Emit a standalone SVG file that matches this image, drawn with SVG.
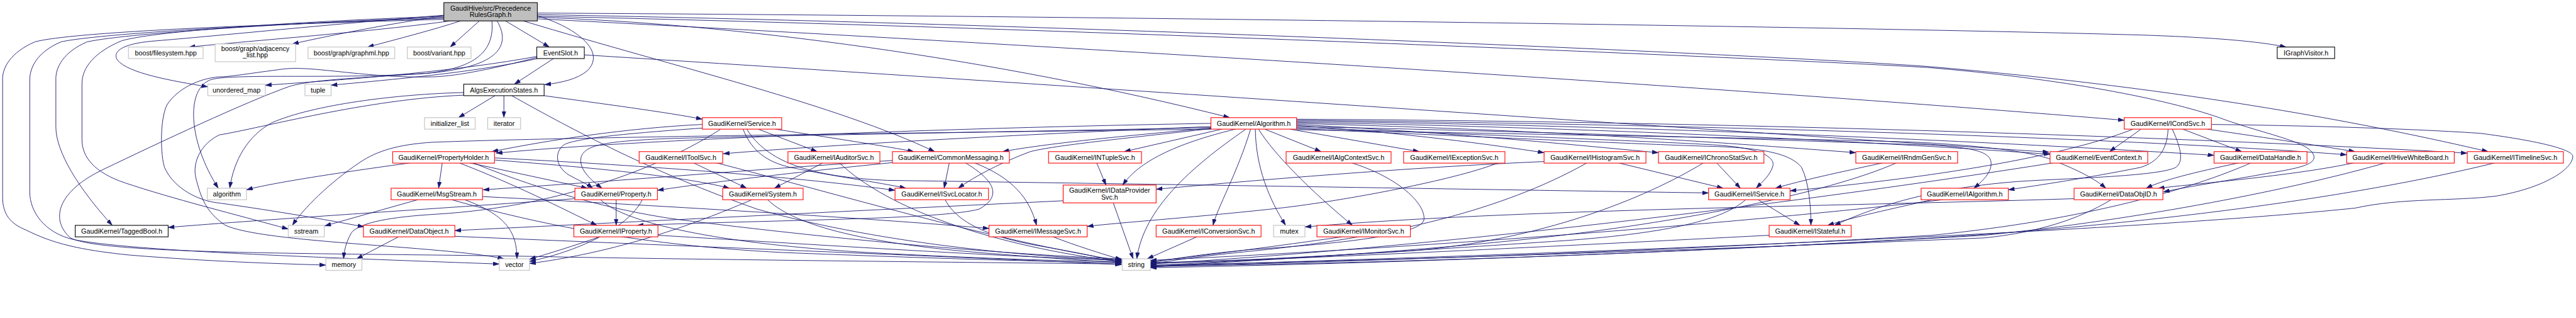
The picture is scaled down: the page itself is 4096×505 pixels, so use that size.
<svg xmlns="http://www.w3.org/2000/svg" width="4096" height="505" viewBox="0 0 4096 505">
<style>
.e{fill:none;stroke:#191970;stroke-width:1.1}
.n rect{fill:#fff;stroke-width:1.3}
.red rect{stroke:#ff0000}
.ext rect{stroke:#bfbfbf}
.doc rect{stroke:#000}
.root rect{fill:#bfbfbf;stroke:#000}
text{font-family:"Liberation Sans",Arial,sans-serif;font-size:13px;text-anchor:middle;fill:#000}
</style>
<defs>
<marker id="a" markerUnits="userSpaceOnUse" markerWidth="12" markerHeight="8" refX="12" refY="4" orient="auto"><path d="M0,0 L12,4 L0,8 z" fill="#191970" stroke="#191970" stroke-width="0.5"/></marker>
</defs>
<rect width="4096" height="505" fill="#fff"/>
<g transform="scale(0.8303)">
<g id="edges" marker-end="url(#a)">
<path class="e" marker-end="url(#a)" d="M 862,40 C 720,60 480,78 362,90"/>
<path class="e" marker-end="url(#a)" d="M 851,30 C 750,45 640,66 560,84"/>
<path class="e" marker-end="url(#a)" d="M 882,40 C 830,57 760,75 704,90"/>
<path class="e" marker-end="url(#a)" d="M 918,40 L 862,90"/>
<path class="e" marker-end="url(#a)" d="M 968,40 L 1052,90"/>
<path class="e" marker-end="url(#a)" d="M 1029,30 C 1110,55 1160,100 1125,135 C 1105,152 1075,158 1043,162"/>
<path class="e" marker-end="url(#a)" d="M 850,29 C 650,45 400,70 300,78 C 230,83 215,100 225,115 C 245,140 330,155 398,166"/>
<path class="e" marker-end="url(#a)" d="M 942,40 C 948,105 900,130 820,140 C 650,152 450,140 405,152 C 355,168 360,270 418,360"/>
<path class="e" marker-end="url(#a)" d="M 850,31 C 600,40 300,58 233,78 C 180,100 157,130 157,160 L 157,267 C 157,300 180,330 240,350 C 330,380 450,410 552,438"/>
<path class="e" marker-end="url(#a)" d="M 850,33 C 600,42 250,62 167,80 C 120,100 107,130 107,150 L 107,243 C 107,290 150,360 215,431"/>
<path class="e" marker-end="url(#a)" d="M 850,35 C 600,42 200,62 117,80 C 70,100 57,130 57,153 L 57,367 C 57,405 85,445 140,458 C 250,480 600,492 956,505"/>
<path class="e" marker-end="url(#a)" d="M 850,37 C 600,44 150,58 67,80 C 20,100 5,130 5,150 L 5,377 C 5,410 20,428 50,440 C 100,465 150,478 250,488 C 400,500 520,504 624,507"/>
<path class="e" marker-end="url(#a)" d="M 1002,40 C 1300,130 1600,200 1790,290"/>
<path class="e" marker-end="url(#a)" d="M 1029,33 C 1400,45 1900,110 2355,225"/>
<path class="e" marker-end="url(#a)" d="M 1029,36 C 1700,70 3100,150 4068,230"/>
<path class="e" marker-end="url(#a)" d="M 1029,25 C 2000,30 3500,50 4100,67 C 4250,72 4330,80 4378,90"/>
<path class="e" marker-end="url(#a)" d="M 1029,28 C 2000,45 3300,100 3690,127 C 4200,170 4550,240 4765,290"/>
<path class="e" marker-end="url(#a)" d="M 1029,31 C 2000,52 3400,112 3690,129 C 3950,150 4150,190 4250,225 C 4330,255 4420,270 4430,295 C 4440,315 4400,322 4340,332 C 4270,345 4200,355 4143,367"/>
<path class="e" marker-end="url(#a)" d="M 952,40 C 978,85 960,128 820,140 C 680,150 600,152 555,165 C 470,195 300,275 200,323 C 110,365 95,420 135,455 C 200,490 700,483 1100,492 C 1600,500 2000,503 2148,505"/>
<path class="e" marker-end="url(#a)" d="M 1060,112 L 985,161"/>
<path class="e" marker-end="url(#a)" d="M 1028,108 C 880,135 700,150 508,163"/>
<path class="e" marker-end="url(#a)" d="M 1030,112 C 900,140 750,152 634,163"/>
<path class="e" marker-end="url(#a)" d="M 1119,105 C 2000,160 3300,250 3924,291"/>
<path class="e" marker-end="url(#a)" d="M 1028,110 C 950,130 880,145 830,147 C 700,150 600,125 543,132 C 480,140 440,147 420,147 C 380,150 340,170 320,200 C 305,230 308,300 315,320 C 330,355 370,380 410,387 C 470,395 600,415 697,434"/>
<path class="e" marker-end="url(#a)" d="M 948,183 L 878,225"/>
<path class="e" marker-end="url(#a)" d="M 965,183 L 965,225"/>
<path class="e" marker-end="url(#a)" d="M 1042,183 C 1150,198 1280,215 1345,228"/>
<path class="e" marker-end="url(#a)" d="M 980,183 C 1100,250 1250,330 1450,400 C 1700,470 2000,493 2148,497"/>
<path class="e" marker-end="url(#a)" d="M 888,177 C 760,180 600,200 520,235 C 475,260 448,305 440,360"/>
<path class="e" marker-end="url(#a)" d="M 888,182 C 700,190 500,245 420,258 C 385,275 368,310 375,340 C 385,380 395,405 430,430 C 500,465 850,470 965,495"/>
<path class="e" marker-end="url(#a)" d="M 1345,238 C 1200,245 1050,268 942,290"/>
<path class="e" marker-end="url(#a)" d="M 1452,247 L 1565,290"/>
<path class="e" marker-end="url(#a)" d="M 1485,247 C 1600,265 1700,280 1750,290"/>
<path class="e" marker-end="url(#a)" d="M 1345,245 C 1200,255 1100,265 1080,277 C 1060,292 1065,320 1090,335 C 1110,346 1125,352 1135,360"/>
<path class="e" marker-end="url(#a)" d="M 1423,247 C 1440,290 1470,310 1513,320 C 1600,338 1680,348 1735,360"/>
<path class="e" marker-end="url(#a)" d="M 1430,247 C 1470,310 1550,338 1700,345 C 2400,355 3000,365 3272,369"/>
<path class="e" marker-end="url(#a)" d="M 1380,247 C 1300,300 1100,395 830,410 C 750,415 690,425 673,445 C 662,465 659,480 658,495"/>
<path class="e" marker-end="url(#a)" d="M 2319,236 C 1800,245 1200,268 950,293"/>
<path class="e" marker-end="url(#a)" d="M 2319,242 C 2000,255 1600,276 1385,294"/>
<path class="e" marker-end="url(#a)" d="M 2320,245 C 2150,260 2000,275 1920,290"/>
<path class="e" marker-end="url(#a)" d="M 2340,247 L 2153,290"/>
<path class="e" marker-end="url(#a)" d="M 2366,247 C 2250,275 2180,310 2150,354"/>
<path class="e" marker-end="url(#a)" d="M 2386,247 C 2280,320 2190,400 2177,495"/>
<path class="e" marker-end="url(#a)" d="M 2395,247 C 2370,330 2330,400 2323,431"/>
<path class="e" marker-end="url(#a)" d="M 2404,247 C 2405,320 2430,380 2462,431"/>
<path class="e" marker-end="url(#a)" d="M 2410,247 C 2440,295 2510,365 2590,431"/>
<path class="e" marker-end="url(#a)" d="M 2422,247 L 2530,290"/>
<path class="e" marker-end="url(#a)" d="M 2470,247 L 2718,290"/>
<path class="e" marker-end="url(#a)" d="M 2483,240 C 2700,255 2850,276 2957,292"/>
<path class="e" marker-end="url(#a)" d="M 2483,238 C 2800,255 3000,276 3176,292"/>
<path class="e" marker-end="url(#a)" d="M 2483,236 C 3000,250 3300,273 3554,292"/>
<path class="e" marker-end="url(#a)" d="M 2483,234 C 3100,245 3600,272 3926,295"/>
<path class="e" marker-end="url(#a)" d="M 2483,232 C 3200,240 3900,276 4240,297"/>
<path class="e" marker-end="url(#a)" d="M 2483,230 C 3300,238 4100,266 4494,296"/>
<path class="e" marker-end="url(#a)" d="M 2483,228 C 3400,233 4300,268 4725,293"/>
<path class="e" marker-end="url(#a)" d="M 2483,244 C 2900,260 3200,272 3280,277 C 3370,282 3400,300 3395,318 C 3390,335 3375,348 3363,360"/>
<path class="e" marker-end="url(#a)" d="M 2483,246 C 2900,265 3200,278 3280,280 C 3380,283 3430,295 3450,320 C 3465,350 3468,400 3468,431"/>
<path class="e" marker-end="url(#a)" d="M 2483,242 C 3100,255 3500,272 3690,277 C 3780,282 3810,290 3813,310 C 3815,330 3795,348 3780,360"/>
<path class="e" marker-end="url(#a)" d="M 2483,248 C 3100,260 3600,268 3690,273 C 3800,280 3900,290 3940,310 C 3990,330 4015,345 4033,360"/>
<path class="e" marker-end="url(#a)" d="M 2320,246 C 2150,265 2020,278 1973,290 C 1920,310 1870,335 1835,360"/>
<path class="e" marker-end="url(#a)" d="M 2319,244 C 1800,255 1300,262 1240,267 C 1150,272 1120,280 1113,300 C 1108,320 1125,340 1153,360"/>
<path class="e" marker-end="url(#a)" d="M 2319,247 C 1700,255 1100,262 830,272 C 760,276 720,290 690,310 C 630,350 580,400 560,431"/>
<path class="e" marker-end="url(#a)" d="M 847,311 L 840,360"/>
<path class="e" marker-end="url(#a)" d="M 897,311 L 1125,360"/>
<path class="e" marker-end="url(#a)" d="M 878,311 C 980,350 1080,400 1143,431"/>
<path class="e" marker-end="url(#a)" d="M 790,311 C 650,330 520,350 472,363"/>
<path class="e" marker-end="url(#a)" d="M 947,306 C 1100,318 1300,335 1397,360"/>
<path class="e" marker-end="url(#a)" d="M 905,311 C 1000,350 1150,400 1300,420 C 1700,470 2000,490 2148,495"/>
<path class="e" marker-end="url(#a)" d="M 947,302 C 1200,315 1500,335 1714,364"/>
<path class="e" marker-end="url(#a)" d="M 800,382 L 622,432"/>
<path class="e" marker-end="url(#a)" d="M 924,376 C 1300,395 1700,420 1894,437"/>
<path class="e" marker-end="url(#a)" d="M 890,382 C 965,410 990,440 990,495"/>
<path class="e" marker-end="url(#a)" d="M 865,382 C 1000,420 1200,468 1500,483 C 1800,495 2000,500 2148,503"/>
<path class="e" marker-end="url(#a)" d="M 1180,382 L 1180,431"/>
<path class="e" marker-end="url(#a)" d="M 1150,382 C 1200,430 1400,470 1700,485 C 1900,495 2050,500 2148,500"/>
<path class="e" marker-end="url(#a)" d="M 1101,380 C 900,395 500,420 322,435"/>
<path class="e" marker-end="url(#a)" d="M 1230,382 C 1200,440 1100,482 1014,500"/>
<path class="e" marker-end="url(#a)" d="M 1818,311 L 1808,360"/>
<path class="e" marker-end="url(#a)" d="M 1865,311 C 1940,340 1972,380 1985,431"/>
<path class="e" marker-end="url(#a)" d="M 1848,311 C 1905,345 1920,375 1875,400 C 1800,420 1500,420 1220,431"/>
<path class="e" marker-end="url(#a)" d="M 1709,307 C 1500,320 1200,345 925,363"/>
<path class="e" marker-end="url(#a)" d="M 1709,311 C 1500,332 1350,350 1259,364"/>
<path class="e" marker-end="url(#a)" d="M 1148,453 C 1100,470 1050,485 1014,496"/>
<path class="e" marker-end="url(#a)" d="M 1260,450 C 1600,470 1900,490 2148,498"/>
<path class="e" marker-end="url(#a)" d="M 763,453 L 683,495"/>
<path class="e" marker-end="url(#a)" d="M 871,452 C 1300,470 1800,490 2148,506"/>
<path class="e" marker-end="url(#a)" d="M 1440,382 C 1350,420 1200,480 1014,504"/>
<path class="e" marker-end="url(#a)" d="M 1470,382 C 1530,440 1700,470 1900,485 C 2000,493 2100,500 2148,502"/>
<path class="e" marker-end="url(#a)" d="M 1327,311 L 1430,360"/>
<path class="e" marker-end="url(#a)" d="M 1370,311 C 1600,370 1900,460 2148,499"/>
<path class="e" marker-end="url(#a)" d="M 1577,311 L 1483,360"/>
<path class="e" marker-end="url(#a)" d="M 1607,311 C 1700,400 1900,470 2148,501"/>
<path class="e" marker-end="url(#a)" d="M 1810,382 C 1830,420 1880,452 2000,472 C 2080,486 2120,495 2148,503"/>
<path class="e" marker-end="url(#a)" d="M 2132,388 L 2170,495"/>
<path class="e" marker-end="url(#a)" d="M 2036,384 C 1700,400 1200,425 871,441"/>
<path class="e" marker-end="url(#a)" d="M 2100,311 L 2118,354"/>
<path class="e" marker-end="url(#a)" d="M 2957,309 C 2700,320 2400,345 2214,362"/>
<path class="e" marker-end="url(#a)" d="M 3097,311 L 3300,360"/>
<path class="e" marker-end="url(#a)" d="M 3040,311 C 2900,390 2700,450 2400,480 C 2300,490 2240,498 2203,506"/>
<path class="e" marker-end="url(#a)" d="M 2017,453 C 2060,470 2110,485 2148,497"/>
<path class="e" marker-end="url(#a)" d="M 2292,453 L 2197,495"/>
<path class="e" marker-end="url(#a)" d="M 2570,453 C 2450,470 2300,490 2203,500"/>
<path class="e" marker-end="url(#a)" d="M 2587,311 C 2680,340 2730,390 2727,420 C 2722,455 2500,470 2400,477 C 2300,486 2240,496 2203,503"/>
<path class="e" marker-end="url(#a)" d="M 2870,311 C 2800,340 2600,380 2460,397 C 2300,415 2150,425 2082,433"/>
<path class="e" marker-end="url(#a)" d="M 3287,311 L 3333,360"/>
<path class="e" marker-end="url(#a)" d="M 3263,311 C 3150,380 2950,460 2700,480 C 2450,495 2300,503 2203,508"/>
<path class="e" marker-end="url(#a)" d="M 3608,311 C 3520,330 3450,345 3400,360"/>
<path class="e" marker-end="url(#a)" d="M 3633,311 C 3500,370 3200,430 2900,460 C 2600,490 2350,500 2203,511"/>
<path class="e" marker-end="url(#a)" d="M 3367,382 L 3447,431"/>
<path class="e" marker-end="url(#a)" d="M 3343,382 C 3300,420 3200,445 3000,460 C 2700,480 2400,500 2203,502"/>
<path class="e" marker-end="url(#a)" d="M 3388,450 C 3000,470 2500,495 2203,504"/>
<path class="e" marker-end="url(#a)" d="M 3700,382 C 3620,400 3550,415 3500,431"/>
<path class="e" marker-end="url(#a)" d="M 3720,382 C 3400,420 2800,470 2203,498"/>
<path class="e" marker-end="url(#a)" d="M 4043,382 C 3980,420 3900,445 3800,455 C 3200,480 2600,500 2203,507"/>
<path class="e" marker-end="url(#a)" d="M 3972,380 C 3500,395 2900,400 2499,434"/>
<path class="e" marker-end="url(#a)" d="M 3935,311 C 3500,380 2800,470 2203,505"/>
<path class="e" marker-end="url(#a)" d="M 4100,247 C 4080,262 4060,275 4040,290"/>
<path class="e" marker-end="url(#a)" d="M 4180,247 L 4293,290"/>
<path class="e" marker-end="url(#a)" d="M 4227,247 C 4350,265 4450,280 4510,290"/>
<path class="e" marker-end="url(#a)" d="M 4085,247 C 3950,300 3700,340 3428,365"/>
<path class="e" marker-end="url(#a)" d="M 4152,247 C 4150,290 4130,310 4100,320 C 4000,340 3900,355 3846,363"/>
<path class="e" marker-end="url(#a)" d="M 4160,247 C 4180,290 4180,310 4167,320 C 4140,335 4000,340 3900,345 C 3700,355 3580,400 3513,431"/>
<path class="e" marker-end="url(#a)" d="M 4235,238 C 4400,240 4600,245 4750,255 C 4850,268 4930,285 4927,300 C 4925,325 4870,360 4780,375 C 4700,385 4600,378 4510,398 C 4200,430 3500,470 2203,509"/>
<path class="e" marker-end="url(#a)" d="M 4290,311 C 4200,330 4140,345 4110,360"/>
<path class="e" marker-end="url(#a)" d="M 4312,311 C 4200,360 4000,420 3700,450 C 3200,480 2600,500 2203,510"/>
<path class="e" marker-end="url(#a)" d="M 4510,311 C 4400,335 4220,350 4133,360"/>
<path class="e" marker-end="url(#a)" d="M 4570,311 C 4400,360 4100,420 3800,450 C 3200,485 2600,505 2203,512"/>
<path class="e" marker-end="url(#a)" d="M 4780,311 C 4500,380 4100,430 3700,455 C 3200,485 2600,505 2203,509"/>
</g>
<g id="n_root" class="n root"><rect x="850" y="5" width="179" height="35"/><text x="939.5" y="20.5">GaudiHive/src/Precedence</text><text x="939.5" y="32.5">RulesGraph.h</text></g>
<g id="n_fs" class="n ext"><rect x="246" y="90" width="143" height="22"/><text x="317.5" y="105.6">boost/filesystem.hpp</text></g>
<g id="n_adj" class="n ext"><rect x="412" y="84" width="154" height="34"/><text x="489" y="97.5">boost/graph/adjacency</text><text x="489" y="110">_list.hpp</text></g>
<g id="n_graphml" class="n ext"><rect x="590" y="90" width="166" height="22"/><text x="673" y="105.6">boost/graph/graphml.hpp</text></g>
<g id="n_variant" class="n ext"><rect x="780" y="90" width="122" height="22"/><text x="841" y="105.6">boost/variant.hpp</text></g>
<g id="n_eventslot" class="n doc"><rect x="1028" y="90" width="91" height="22"/><text x="1073.5" y="105.6">EventSlot.h</text></g>
<g id="n_igraphvisitor" class="n doc"><rect x="4361" y="90" width="110" height="22"/><text x="4416" y="105.6">IGraphVisitor.h</text></g>
<g id="n_umap" class="n ext"><rect x="398" y="161" width="110" height="22"/><text x="453" y="176.6">unordered_map</text></g>
<g id="n_tuple" class="n ext"><rect x="584" y="161" width="50" height="22"/><text x="609" y="176.6">tuple</text></g>
<g id="n_aes" class="n doc"><rect x="888" y="161" width="154" height="22"/><text x="965" y="176.6">AlgsExecutionStates.h</text></g>
<g id="n_initlist" class="n ext"><rect x="813" y="225" width="97" height="22"/><text x="861.5" y="240.6">initializer_list</text></g>
<g id="n_iterator" class="n ext"><rect x="934" y="225" width="63" height="22"/><text x="965.5" y="240.6">iterator</text></g>
<g id="n_service" class="n red"><rect x="1345" y="225" width="152" height="22"/><text x="1421" y="240.6">GaudiKernel/Service.h</text></g>
<g id="n_algorithm_h" class="n red"><rect x="2319" y="225" width="164" height="22"/><text x="2401" y="240.6">GaudiKernel/Algorithm.h</text></g>
<g id="n_icondsvc" class="n red"><rect x="4068" y="225" width="167" height="22"/><text x="4151.5" y="240.6">GaudiKernel/ICondSvc.h</text></g>
<g id="n_propertyholder" class="n red"><rect x="752" y="290" width="195" height="22"/><text x="849.5" y="305.6">GaudiKernel/PropertyHolder.h</text></g>
<g id="n_itoolsvc" class="n red"><rect x="1224" y="290" width="160" height="22"/><text x="1304" y="305.6">GaudiKernel/IToolSvc.h</text></g>
<g id="n_iauditorsvc" class="n red"><rect x="1509" y="290" width="176" height="22"/><text x="1597" y="305.6">GaudiKernel/IAuditorSvc.h</text></g>
<g id="n_commonmessaging" class="n red"><rect x="1709" y="290" width="224" height="22"/><text x="1821" y="305.6">GaudiKernel/CommonMessaging.h</text></g>
<g id="n_intuplesvc" class="n red"><rect x="2008" y="290" width="178" height="22"/><text x="2097" y="305.6">GaudiKernel/INTupleSvc.h</text></g>
<g id="n_ialgcontextsvc" class="n red"><rect x="2463" y="290" width="201" height="22"/><text x="2563.5" y="305.6">GaudiKernel/IAlgContextSvc.h</text></g>
<g id="n_iexceptionsvc" class="n red"><rect x="2688" y="290" width="194" height="22"/><text x="2785" y="305.6">GaudiKernel/IExceptionSvc.h</text></g>
<g id="n_ihistogramsvc" class="n red"><rect x="2957" y="290" width="195" height="22"/><text x="3054.5" y="305.6">GaudiKernel/IHistogramSvc.h</text></g>
<g id="n_ichronostatsvc" class="n red"><rect x="3176" y="290" width="202" height="22"/><text x="3277" y="305.6">GaudiKernel/IChronoStatSvc.h</text></g>
<g id="n_irndmgensvc" class="n red"><rect x="3554" y="290" width="195" height="22"/><text x="3651.5" y="305.6">GaudiKernel/IRndmGenSvc.h</text></g>
<g id="n_eventcontext" class="n red"><rect x="3926" y="290" width="187" height="22"/><text x="4019.5" y="305.6">GaudiKernel/EventContext.h</text></g>
<g id="n_datahandle" class="n red"><rect x="4240" y="290" width="178" height="22"/><text x="4329" y="305.6">GaudiKernel/DataHandle.h</text></g>
<g id="n_ihivewhiteboard" class="n red"><rect x="4494" y="290" width="206" height="22"/><text x="4597" y="305.6">GaudiKernel/IHiveWhiteBoard.h</text></g>
<g id="n_itimelinesvc" class="n red"><rect x="4725" y="290" width="184" height="22"/><text x="4817" y="305.6">GaudiKernel/ITimelineSvc.h</text></g>
<g id="n_algorithm" class="n ext"><rect x="397" y="360" width="75" height="22"/><text x="434.5" y="375.6">algorithm</text></g>
<g id="n_msgstream" class="n red"><rect x="749" y="360" width="175" height="22"/><text x="836.5" y="375.6">GaudiKernel/MsgStream.h</text></g>
<g id="n_property" class="n red"><rect x="1101" y="360" width="158" height="22"/><text x="1180" y="375.6">GaudiKernel/Property.h</text></g>
<g id="n_system" class="n red"><rect x="1384" y="360" width="154" height="22"/><text x="1461" y="375.6">GaudiKernel/System.h</text></g>
<g id="n_isvclocator" class="n red"><rect x="1714" y="360" width="179" height="22"/><text x="1803.5" y="375.6">GaudiKernel/ISvcLocator.h</text></g>
<g id="n_idataprovidersvc" class="n red"><rect x="2036" y="354" width="178" height="34"/><text x="2125" y="368.6">GaudiKernel/IDataProvider</text><text x="2125" y="381.3">Svc.h</text></g>
<g id="n_iservice" class="n red"><rect x="3272" y="360" width="156" height="22"/><text x="3350" y="375.6">GaudiKernel/IService.h</text></g>
<g id="n_ialgorithm" class="n red"><rect x="3679" y="360" width="167" height="22"/><text x="3762.5" y="375.6">GaudiKernel/IAlgorithm.h</text></g>
<g id="n_dataobjid" class="n red"><rect x="3972" y="360" width="170" height="22"/><text x="4057" y="375.6">GaudiKernel/DataObjID.h</text></g>
<g id="n_taggedbool" class="n doc"><rect x="144" y="431" width="178" height="22"/><text x="233" y="446.6">GaudiKernel/TaggedBool.h</text></g>
<g id="n_sstream" class="n ext"><rect x="552" y="431" width="69" height="22"/><text x="586.5" y="446.6">sstream</text></g>
<g id="n_dataobject" class="n red"><rect x="696" y="431" width="175" height="22"/><text x="783.5" y="446.6">GaudiKernel/DataObject.h</text></g>
<g id="n_iproperty" class="n red"><rect x="1099" y="431" width="161" height="22"/><text x="1179.5" y="446.6">GaudiKernel/IProperty.h</text></g>
<g id="n_imessagesvc" class="n red"><rect x="1894" y="431" width="188" height="22"/><text x="1988" y="446.6">GaudiKernel/IMessageSvc.h</text></g>
<g id="n_iconversionsvc" class="n red"><rect x="2214" y="431" width="201" height="22"/><text x="2314.5" y="446.6">GaudiKernel/IConversionSvc.h</text></g>
<g id="n_mutex" class="n ext"><rect x="2439" y="431" width="60" height="22"/><text x="2469" y="446.6">mutex</text></g>
<g id="n_imonitorsvc" class="n red"><rect x="2522" y="431" width="179" height="22"/><text x="2611.5" y="446.6">GaudiKernel/IMonitorSvc.h</text></g>
<g id="n_istateful" class="n red"><rect x="3388" y="431" width="157" height="22"/><text x="3466.5" y="446.6">GaudiKernel/IStateful.h</text></g>
<g id="n_memory" class="n ext"><rect x="624" y="495" width="69" height="22"/><text x="658.5" y="510.6">memory</text></g>
<g id="n_vector" class="n ext"><rect x="956" y="495" width="58" height="22"/><text x="985" y="510.6">vector</text></g>
<g id="n_string" class="n ext"><rect x="2149" y="495" width="54" height="22"/><text x="2176" y="510.6">string</text></g>
</g>
</svg>
